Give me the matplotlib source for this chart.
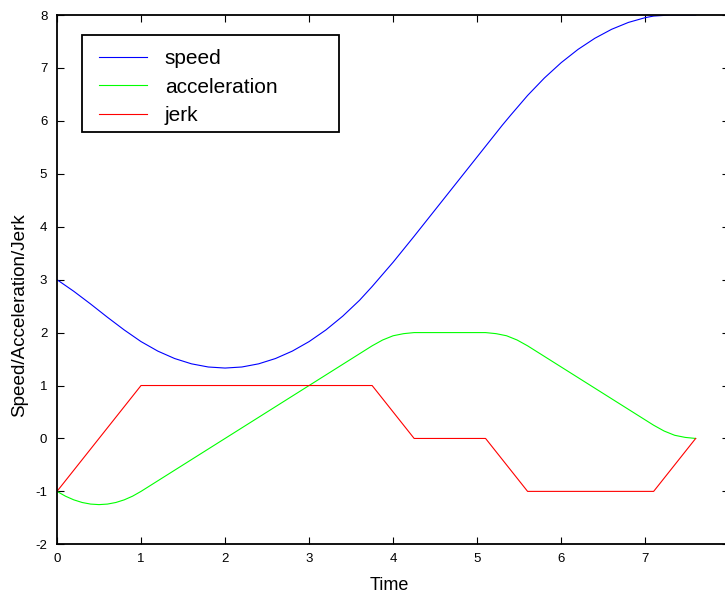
# speed / acceleration / jerk profile

import numpy as np
import matplotlib
matplotlib.use('Agg')
import matplotlib.pyplot as plt
from matplotlib.patches import Rectangle

plt.rcParams['font.family'] = ['Liberation Sans', 'DejaVu Sans']
plt.rcParams['axes.unicode_minus'] = False

# data
t_speed = [0, 0.2, 0.4, 0.6, 0.8, 1.0, 1.2, 1.4, 1.6, 1.8, 2.0, 2.2, 2.4, 2.6, 2.8,
           3.0, 3.2, 3.4, 3.6, 3.75, 4.0, 4.25, 4.4, 4.6, 4.8, 5.0, 5.1, 5.3, 5.4,
           5.6, 5.8, 6.0, 6.2, 6.4, 6.6, 6.8, 7.0, 7.1, 7.3, 7.6]
speed = [3.0, 2.78, 2.54, 2.29, 2.05, 1.83, 1.65, 1.51, 1.41, 1.35, 1.33, 1.35, 1.41,
         1.51, 1.65, 1.83, 2.05, 2.31, 2.61, 2.87, 3.33, 3.82, 4.12, 4.52, 4.92, 5.32,
         5.52, 5.92, 6.11, 6.48, 6.81, 7.10, 7.35, 7.56, 7.73, 7.86, 7.95, 7.98, 8.0, 8.0]

t_acc = [0, 0.1, 0.2, 0.3, 0.4, 0.5, 0.6, 0.7, 0.8, 0.9, 1.0, 3.75, 3.875, 4.0, 4.125,
         4.25, 5.1, 5.225, 5.35, 5.475, 5.6, 7.1, 7.225, 7.35, 7.475, 7.6]
acceleration = [-1.0, -1.09, -1.16, -1.21, -1.24, -1.25, -1.24, -1.21, -1.16, -1.09,
                -1.0, 1.75, 1.86, 1.94, 1.98, 2.0, 2.0, 1.98, 1.94, 1.86, 1.75, 0.25,
                0.14, 0.06, 0.02, 0.0]

t_jerk = [0, 1, 3.75, 4.25, 5.1, 5.6, 7.1, 7.6]
jerk = [-1, 1, 1, 0, 0, -1, -1, 0]

fig = plt.figure(figsize=(7.25, 5.93), dpi=100)
ax = fig.add_axes([0.0786, 0.0821, 0.9273, 0.8926])

ax.plot(t_speed, speed, color='#0000ff', lw=0.8, label='speed')
ax.plot(t_acc, acceleration, color='#00ff00', lw=0.8, label='acceleration')
ax.plot(t_jerk, jerk, color='#ff0000', lw=0.8, label='jerk')

ax.set_xlim(0, 8)
ax.set_ylim(-2, 8)
ax.set_xticks(range(0, 9))
ax.set_yticks(range(-2, 9))
ax.tick_params(direction='in', top=True, right=True, length=5, width=0.8,
               labelsize=9.5)
ax.tick_params(axis='x', pad=6)
ax.tick_params(axis='y', pad=7)
for s in ax.spines.values():
    s.set_linewidth(1.3)

ax.set_xlabel('Time', fontsize=13)
ax.xaxis.set_label_coords(0.494, -0.062)
ax.set_ylabel('Speed/Acceleration/Jerk', fontsize=13.6)
ax.yaxis.set_label_coords(-0.043, 0.433)

# legend: frameless entries inside a hand drawn box
leg = ax.legend(loc='upper left', bbox_to_anchor=(99 / 725, 1 - 49 / 593),
                bbox_transform=fig.transFigure, frameon=False, fontsize=15,
                borderpad=0, borderaxespad=0, handlelength=2.3,
                handletextpad=0.85, labelspacing=0.46)
fig.patches.append(Rectangle((82 / 725, 1 - 132 / 593), 257 / 725, 97 / 593,
                             transform=fig.transFigure, fill=False,
                             edgecolor='black', lw=1.3, zorder=5))

plt.savefig('out.png', dpi=100)
